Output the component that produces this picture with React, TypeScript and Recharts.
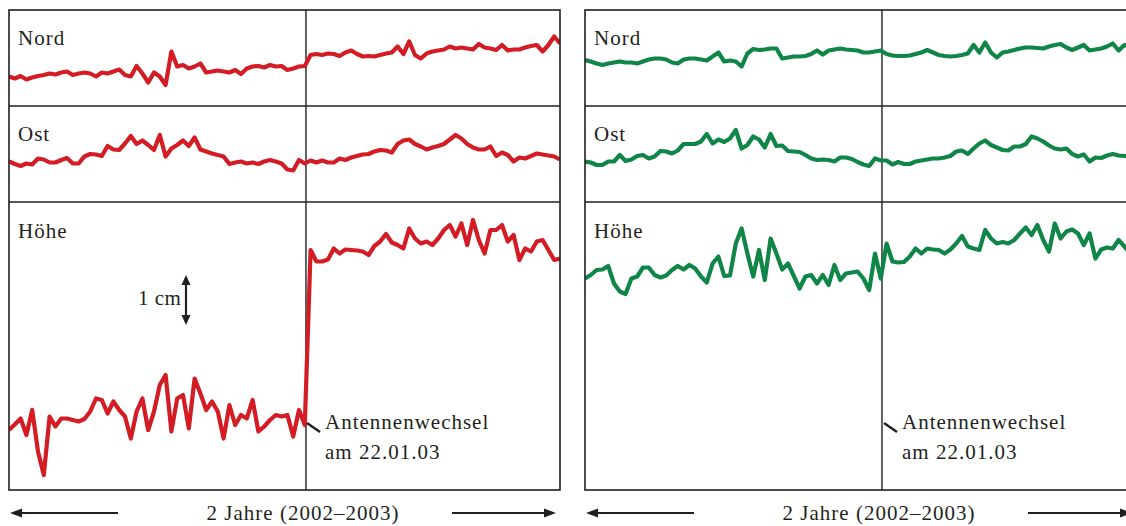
import { Line, LineChart, ReferenceLine, XAxis, YAxis } from 'recharts';

// weekly solutions, 2002-2003, displacement in mm (1 cm = 50 px)
const leftNord = [
  -0.9, -1.3, -0.8, -1.5, -1.1, -0.8, -0.6, -0.3, -0.5, -0.1,
  0.1, -0.6, -0.3, -0.1, -0.3, -0.9, -0.1, -0.3, 0.1, 0.5,
  -0.6, -0.9, 1.2, -0.3, -2.1, -0.1, -0.9, -2.6, 4.1, 1.1,
  1.4, 0.7, 1.1, 1.7, -0.1, 0.1, 0.3, 0.1, -0.1, 0.4,
  -0.4, 0.7, 1.1, 1.2, 0.9, 1.4, 1.1, 1.2, 0.4, 0.7,
  1.1, 1.2, 3.4, 3.6, 3.4, 3.7, 3.6, 3.2, 3.9, 4.3,
  3.6, 3.1, 3.2, 3.1, 3.4, 3.7, 3.9, 5.1, 3.6, 6.1,
  3.4, 2.7, 3.7, 4.1, 4.3, 4.5, 5.1, 4.7, 4.9, 4.7,
  4.5, 5.6, 4.9, 4.7, 4.4, 5.4, 4.3, 4.5, 4.5, 4.9,
  5.2, 5.4, 4.1, 5.4, 7.1, 5.7,
];
const leftOst = [
  -0.3, -0.8, -1.2, -0.7, -0.9, 0.3, 0.1, -0.5, -0.5, 0,
  0.4, -0.7, -0.7, 0.7, 1.2, 1.1, 0.8, 2.8, 2.1, 2.0,
  3.3, 4.8, 3.2, 3.9, 3.0, 2.0, 5.0, 0.7, 2.3, 3.0,
  3.9, 2.8, 4.5, 2.1, 1.7, 1.3, 1.0, 0.7, -0.8, -0.5,
  -0.3, -0.7, -0.5, -0.8, -0.3, 0, -0.3, -0.7, -1.9, -2.1,
  0, -0.7, -0.1, -0.5, -0.1, -0.5, -0.5, 0.3, 0, 0.5,
  0.8, 1.1, 1.2, 1.7, 2.0, 1.9, 1.5, 3.2, 3.9, 4.1,
  3.2, 2.7, 2.1, 2.5, 2.8, 3.2, 4.1, 5.0, 4.3, 3.2,
  2.5, 2.1, 2.1, 2.7, 0.8, 1.5, 1.0, -0.3, 0.5, 0.3,
  0.8, 1.3, 1.1, 0.9, 0.7, 0.1,
];
const leftHoehe = [
  -1.0, 0.1, 1.3, -2.0, 3.0, -5.3, -10.0, 1.7, -0.3, 1.3,
  1.3, 1.0, 0.7, 1.2, 2.7, 5.3, 5.0, 2.3, 4.7, 3.0,
  1.7, -2.7, 2.7, 5.3, -1.0, 2.7, 8.0, 10.0, -1.3, 5.3,
  6.0, -0.7, 9.3, 6.3, 3.0, 4.7, 2.7, -2.7, 4.0, 0,
  2.0, 1.3, 5.0, -1.3, -0.3, 1.0, 2.0, 1.7, 2.0, -2.3,
  3.0, 0, 35.0, 32.7, 32.7, 33.1, 35.3, 34.3, 35.1, 35.0,
  34.9, 34.7, 34.0, 35.8, 36.7, 38.2, 36.5, 36.0, 35.3, 39.3,
  37.3, 36.3, 36.7, 36.0, 37.3, 39.0, 40.0, 37.7, 40.3, 36.0,
  41.0, 37.0, 34.3, 39.0, 39.0, 40.0, 36.7, 38.0, 33.0, 35.3,
  34.7, 36.7, 37.0, 35.0, 33.0, 33.3,
];
const rightNord = [
  0, -0.3, -0.7, -1.0, -0.7, -0.5, -0.3, -0.5, -0.5, -0.7,
  -0.3, 0.1, 0.3, 0.3, 0.1, -0.5, -0.7, 0.1, 0.3, 0.3,
  0.1, -0.1, 0.7, 1.5, -0.3, -0.1, -0.3, -1.3, 1.3, 2.2,
  2.0, 2.1, 2.3, 2.3, 0.3, 0.5, 0.7, 0.7, 0.8, 1.2,
  1.9, 1.1, 1.9, 2.1, 2.3, 2.1, 2.0, 1.9, 1.5, 1.5,
  1.7, 1.9, 1.2, 0.9, 0.8, 0.8, 0.9, 1.2, 1.5, 2.0,
  1.5, 1.0, 0.8, 0.7, 0.8, 1.0, 1.3, 3.0, 1.5, 3.5,
  1.5, 0.5, 1.5, 1.7, 2.0, 2.3, 2.5, 2.5, 2.4, 2.3,
  2.7, 3.0, 3.2, 2.5, 2.0, 2.5, 3.0, 1.9, 2.1, 2.3,
  2.7, 3.3, 1.9, 3.0, 2.7, 2.8,
];
const rightOst = [
  -0.3, -0.5, -1.0, -1.0, -0.3, -0.3, 1.0, -0.2, 0.1, 0.8,
  1.0, 0.3, 0.7, 1.8, 1.7, 1.3, 1.9, 3.2, 3.2, 3.2,
  3.7, 5.2, 3.3, 4.1, 3.6, 4.3, 6.0, 2.3, 3.0, 4.7,
  4.1, 2.5, 5.2, 2.8, 2.9, 1.8, 1.7, 1.6, 1.0, 0.3,
  0, 0.1, 0, -0.3, 0.5, 0.5, 0.2, -0.4, -0.9, -1.2,
  0.3, -0.1, -0.1, -0.9, -0.4, -0.8, -0.8, -0.3, -0.1, 0.1,
  0.3, 0.3, 0.5, 0.8, 1.7, 1.9, 1.2, 2.3, 3.3, 3.9,
  3.0, 2.5, 2.0, 1.9, 2.7, 2.7, 3.2, 4.7, 4.3, 3.7,
  2.9, 2.3, 2.1, 2.3, 1.2, 0.7, 1.1, -0.3, 0.5, 0.4,
  0.9, 1.2, 0.9, 0.8, 0.7, 0.5,
];
const rightHoehe = [
  -0.7, 0, 1.0, 1.1, 1.8, -1.7, -3.3, -3.8, -0.7, -0.3,
  1.5, 1.5, 0, -0.5, -0.1, 1.0, 1.8, 1.1, 2.0, 1.3,
  -0.3, -1.5, 2.3, 3.7, -0.2, -0.1, 6.3, 9.3, 4.3, -0.3,
  5.0, -1.0, 7.3, 4.3, 1.1, 2.3, -0.2, -2.7, -0.3, 0,
  -1.7, 0, -2.0, 2.0, -1.0, 0.3, 0.5, 0.7, -0.7, -3.0,
  4.3, -0.7, 6.3, 2.7, 2.5, 2.6, 3.7, 5.3, 4.3, 5.3,
  5.1, 5.0, 4.3, 5.1, 6.3, 7.8, 5.7, 5.3, 5.0, 9.0,
  7.3, 6.3, 6.6, 6.3, 7.0, 8.3, 9.5, 8.0, 10.0, 7.0,
  4.7, 10.3, 7.3, 8.7, 9.1, 8.3, 6.0, 8.3, 3.3, 5.1,
  5.5, 5.3, 7.0, 5.7, 4.3, 5.0,
];

const N = 96;
const ANTENNA = 51.2; // week index of antenna change, 22.01.03

const RED = '#d31c24';
const GREEN = '#0f8648';
const INK = '#231f20';
const FONT = "'Liberation Serif', 'Times New Roman', serif";

const PANEL_W = 551;

function rows(values: number[]) {
  return values.map((v, i) => ({ i, v }));
}

interface StripProps {
  values: number[];
  domain: [number, number];
  color: string;
  left: number;
  top: number;
  height: number;
}

function Strip({ values, domain, color, left, top, height }: StripProps) {
  return (
    <div style={{ position: 'absolute', left, top }}>
      <LineChart
        width={PANEL_W}
        height={height}
        data={rows(values)}
        margin={{ top: 0, right: 0, bottom: 0, left: 0 }}
      >
        <XAxis type='number' dataKey='i' domain={[0, N - 1]} hide />
        <YAxis type='number' domain={domain} hide allowDataOverflow />
        <ReferenceLine x={ANTENNA} stroke={INK} strokeWidth={1.4} />
        <Line
          type='linear'
          dataKey='v'
          stroke={color}
          strokeWidth={4.2}
          strokeLinejoin='round'
          dot={false}
          isAnimationActive={false}
        />
      </LineChart>
    </div>
  );
}

function Arrow({ x1, x2, y }: { x1: number; x2: number; y: number }) {
  // x2 is the tip
  const dir = x2 > x1 ? 1 : -1;
  const base = x2 - dir * 12;
  return (
    <g>
      <line x1={x1} y1={y} x2={base} y2={y} stroke={INK} strokeWidth={2.2} />
      <polygon points={`${x2},${y} ${base},${y - 4.5} ${base},${y + 4.5}`} fill={INK} />
    </g>
  );
}

function PanelFrame({ x, tickX }: { x: number; tickX: number }) {
  const lbl = { fontFamily: FONT, fontSize: 21, letterSpacing: 1, fill: INK };
  return (
    <g>
      <rect x={x} y={10} width={PANEL_W} height={480} fill='none' stroke={INK} strokeWidth={1.6} />
      <line x1={x} x2={x + PANEL_W} y1={106} y2={106} stroke={INK} strokeWidth={1.5} />
      <line x1={x} x2={x + PANEL_W} y1={202} y2={202} stroke={INK} strokeWidth={1.5} />
      <text x={x + 9} y={45} {...lbl}>Nord</text>
      <text x={x + 9} y={141} {...lbl}>Ost</text>
      <text x={x + 9} y={238} {...lbl}>Höhe</text>
      <line x1={tickX + 2} y1={423} x2={tickX + 15} y2={432} stroke={INK} strokeWidth={2.4} />
      <text x={tickX + 20} y={429} {...lbl}>Antennenwechsel</text>
      <text x={tickX + 20} y={459} {...lbl}>am 22.01.03</text>
      <text x={x + 294} y={520} textAnchor='middle' {...lbl}>2 Jahre (2002–2003)</text>
      <Arrow x1={x + 109} x2={x + 1} y={513} />
      <Arrow x1={x + 443} x2={x + 547} y={513} />
    </g>
  );
}

export default function App() {
  return (
    <div
      style={{
        position: 'fixed',
        left: 0,
        top: 0,
        width: 1126,
        height: 526,
        overflow: 'hidden',
        background: '#fff',
      }}
    >
      <Strip values={leftNord} domain={[-6.8, 12.4]} color={RED} left={9} top={10} height={96} />
      <Strip values={leftOst} domain={[-8.4, 10.8]} color={RED} left={9} top={106} height={96} />
      <Strip values={leftHoehe} domain={[-13.0, 44.6]} color={RED} left={9} top={202} height={288} />
      <Strip values={rightNord} domain={[-9.2, 10.0]} color={GREEN} left={585} top={10} height={96} />
      <Strip values={rightOst} domain={[-8.4, 10.8]} color={GREEN} left={585} top={106} height={96} />
      <Strip values={rightHoehe} domain={[-43.0, 14.6]} color={GREEN} left={585} top={202} height={288} />
      <svg
        width={1126}
        height={526}
        style={{ position: 'absolute', left: 0, top: 0, pointerEvents: 'none' }}
      >
        <PanelFrame x={9} tickX={305} />
        <PanelFrame x={585} tickX={882} />
        <text x={138} y={305} fontFamily={FONT} fontSize={21} letterSpacing={0.5} fill={INK}>
          1 cm
        </text>
        <line x1={186} x2={186} y1={282} y2={318} stroke={INK} strokeWidth={2.2} />
        <polygon points='186,275 181.5,285 190.5,285' fill={INK} />
        <polygon points='186,325 181.5,315 190.5,315' fill={INK} />
      </svg>
    </div>
  );
}
